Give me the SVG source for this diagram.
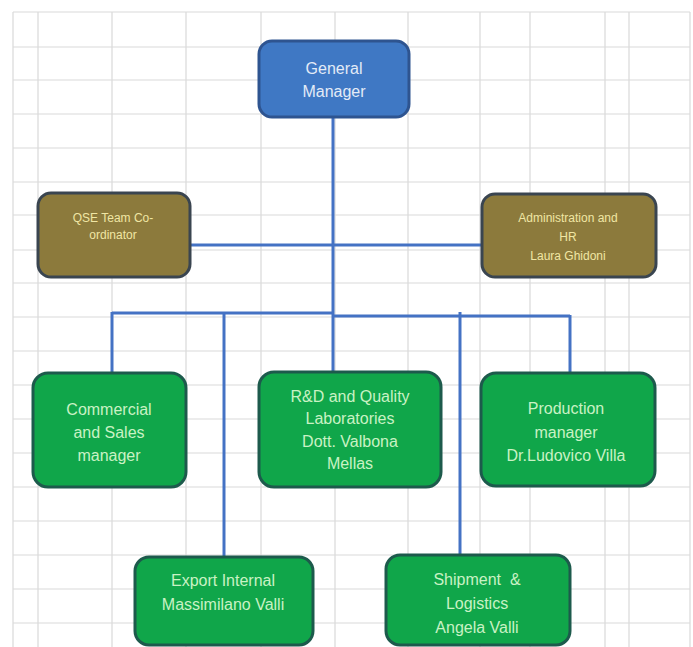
<svg xmlns="http://www.w3.org/2000/svg" width="693" height="647" viewBox="0 0 693 647">
<style>
.grid line{stroke:#d9d9d9;stroke-width:1.2}
.conn{stroke:#4472c4;stroke-width:3;fill:none}
.box{stroke-width:3}
.gm{fill:#3f78c4;stroke:#2e5490}
.ol{fill:#8c7a3c;stroke:#3a4550}
.gr{fill:#10a64a;stroke:#1d5a4c}
text{font-family:"Liberation Sans",Arial,sans-serif;text-anchor:middle}
.tgm{fill:#e3ebf7;font-size:16px}
.tol{fill:#f0e6a4;font-size:12px}
.tgr{fill:#c9f2c4;font-size:16px}
</style>
<rect x="0" y="0" width="693" height="647" fill="#ffffff"/>
<g class="grid">
<line x1="13" y1="12" x2="13" y2="647"/>
<line x1="38" y1="12" x2="38" y2="647"/>
<line x1="112" y1="12" x2="112" y2="647"/>
<line x1="186" y1="12" x2="186" y2="647"/>
<line x1="261" y1="12" x2="261" y2="647"/>
<line x1="335" y1="12" x2="335" y2="647"/>
<line x1="408" y1="12" x2="408" y2="647"/>
<line x1="480" y1="12" x2="480" y2="647"/>
<line x1="530" y1="12" x2="530" y2="647"/>
<line x1="605" y1="12" x2="605" y2="647"/>
<line x1="629" y1="12" x2="629" y2="647"/>
<line x1="690" y1="12" x2="690" y2="647"/>
<line x1="13" y1="12" x2="690" y2="12"/>
<line x1="13" y1="47" x2="690" y2="47"/>
<line x1="13" y1="80" x2="690" y2="80"/>
<line x1="13" y1="114" x2="690" y2="114"/>
<line x1="13" y1="148" x2="690" y2="148"/>
<line x1="13" y1="182" x2="690" y2="182"/>
<line x1="13" y1="215" x2="690" y2="215"/>
<line x1="13" y1="250" x2="690" y2="250"/>
<line x1="13" y1="283" x2="690" y2="283"/>
<line x1="13" y1="317" x2="690" y2="317"/>
<line x1="13" y1="351" x2="690" y2="351"/>
<line x1="13" y1="385" x2="690" y2="385"/>
<line x1="13" y1="419" x2="690" y2="419"/>
<line x1="13" y1="453" x2="690" y2="453"/>
<line x1="13" y1="487" x2="690" y2="487"/>
<line x1="13" y1="521" x2="690" y2="521"/>
<line x1="13" y1="555" x2="690" y2="555"/>
<line x1="13" y1="589" x2="690" y2="589"/>
<line x1="13" y1="623" x2="690" y2="623"/>
</g>
<g id="connectors">
<line class="conn" x1="333" y1="117" x2="333" y2="372"/>
<line class="conn" x1="190" y1="245" x2="482" y2="245"/>
<line class="conn" x1="112" y1="313" x2="333" y2="313"/>
<line class="conn" x1="333" y1="316" x2="570" y2="316"/>
<line class="conn" x1="112" y1="312" x2="112" y2="373"/>
<line class="conn" x1="224" y1="312" x2="224" y2="557"/>
<line class="conn" x1="460" y1="312" x2="460" y2="555"/>
<line class="conn" x1="570" y1="315" x2="570" y2="373"/>
</g>
<g id="general-manager">
<rect class="box gm" x="259" y="41" width="150" height="76" rx="13"/>
<text class="tgm" x="334" y="74">General</text>
<text class="tgm" x="334" y="97">Manager</text>
</g>
<g id="qse">
<rect class="box ol" x="38" y="193" width="152" height="84" rx="13"/>
<text class="tol" x="113" y="222">QSE Team Co-</text>
<text class="tol" x="113" y="239">ordinator</text>
</g>
<g id="admin">
<rect class="box ol" x="482" y="194" width="174" height="83" rx="13"/>
<text class="tol" x="568" y="222">Administration and</text>
<text class="tol" x="568" y="241">HR</text>
<text class="tol" x="568" y="260">Laura Ghidoni</text>
</g>
<g id="commercial">
<rect class="box gr" x="33" y="373" width="153" height="114" rx="15"/>
<text class="tgr" x="109" y="415">Commercial</text>
<text class="tgr" x="109" y="438">and Sales</text>
<text class="tgr" x="109" y="461">manager</text>
</g>
<g id="rnd">
<rect class="box gr" x="259" y="372" width="182" height="115" rx="15"/>
<text class="tgr" x="350" y="402">R&amp;D and Quality</text>
<text class="tgr" x="350" y="424">Laboratories</text>
<text class="tgr" x="350" y="447">Dott. Valbona</text>
<text class="tgr" x="350" y="469">Mellas</text>
</g>
<g id="production">
<rect class="box gr" x="481" y="373" width="174" height="113" rx="15"/>
<text class="tgr" x="566" y="414">Production</text>
<text class="tgr" x="566" y="438">manager</text>
<text class="tgr" x="566" y="461">Dr.Ludovico Villa</text>
</g>
<g id="export">
<rect class="box gr" x="135" y="557" width="178" height="88" rx="14"/>
<text class="tgr" x="223" y="586">Export Internal</text>
<text class="tgr" x="223" y="610">Massimilano Valli</text>
</g>
<g id="shipment">
<rect class="box gr" x="386" y="555" width="184" height="90" rx="14"/>
<text class="tgr" x="477" y="585" xml:space="preserve">Shipment  &amp;</text>
<text class="tgr" x="477" y="609">Logistics</text>
<text class="tgr" x="477" y="633">Angela Valli</text>
</g>
</svg>
